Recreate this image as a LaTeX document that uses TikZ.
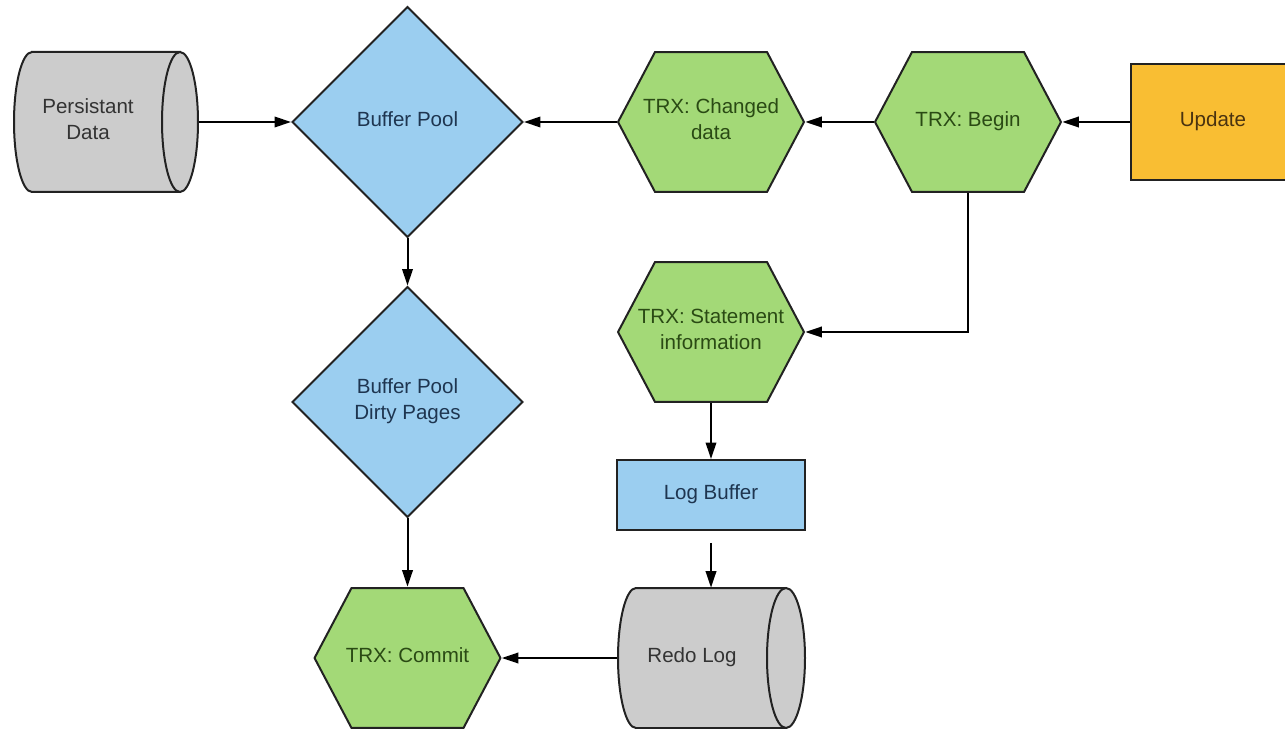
\documentclass[tikz,border=0pt]{standalone}
\usepackage{fontspec}
\setmainfont{Liberation Sans}
\usetikzlibrary{shapes.geometric,arrows.meta,calc}
\definecolor{edgeline}{HTML}{222222}
\definecolor{poolblue}{HTML}{9BCEF0}
\definecolor{trxgreen}{HTML}{A3D977}
\definecolor{storegray}{HTML}{CCCCCC}
\definecolor{startorange}{HTML}{F9BE33}
\definecolor{greentext}{HTML}{2A4A14}
\definecolor{bluetext}{HTML}{1E3550}
\definecolor{graytext}{HTML}{333333}
\definecolor{orangetext}{HTML}{4A3310}
\begin{document}
\begin{tikzpicture}[x=0.02cm, y=0.02cm,
  every node/.style={font=\fontsize{11.7}{14.7}\selectfont, align=center, inner sep=0pt,
    execute at end node={\rule[-1.2mm]{0pt}{0pt}}},
  outline/.style={draw=edgeline, line width=0.4mm},
  pool/.style={diamond, aspect=1, outline, fill=poolblue, text=bluetext,
    minimum width=46.2mm, minimum height=46.2mm},
  trx/.style={rectangle, minimum width=37.6mm, minimum height=28.4mm, text=greentext,
    path picture={
      \filldraw[outline, fill=trxgreen]
        ($(path picture bounding box.west)+(0.2mm,0)$)
        -- ($(path picture bounding box.north west)+(7.6mm,-0.2mm)$)
        -- ($(path picture bounding box.north east)+(-7.6mm,-0.2mm)$)
        -- ($(path picture bounding box.east)+(-0.2mm,0)$)
        -- ($(path picture bounding box.south east)+(-7.6mm,0.2mm)$)
        -- ($(path picture bounding box.south west)+(7.6mm,0.2mm)$)
        -- cycle;}},
  store/.style={outline, fill=storegray},
  storecap/.style={ellipse, outline, fill=storegray, minimum height=28mm},
  storebody/.style={rectangle, text=graytext, minimum height=28mm},
  box/.style={rectangle, outline},
  flow/.style={draw=black, line width=0.4mm, -{Triangle[length=3.3mm,width=2.1mm]}},
]
\useasboundingbox (0,0) rectangle (1285,-729);

% persistent data store, lying on its side
\filldraw[store] (32,-52) -- (180,-52) -- (180,-192) -- (32,-192)
  arc[start angle=270, end angle=90, x radius=3.6mm, y radius=14mm] -- cycle;
\node[storecap, minimum width=7.2mm] (pdcap) at (180,-122) {};
\node[storebody, minimum width=29.6mm] (pd) at (88,-122) {Persistant\\Data};

% redo log store
\filldraw[store] (636,-588) -- (786,-588) -- (786,-728) -- (636,-728)
  arc[start angle=270, end angle=90, x radius=3.6mm, y radius=14mm] -- cycle;
\node[storecap, minimum width=7.6mm] (rlcap) at (786,-658) {};
\node[storebody, minimum width=30mm] (rl) at (692,-658) {Redo Log};

% buffer pool
\node[pool] (bp) at (407.5,-122) {Buffer Pool};
\node[pool] (dp) at (407.5,-402) {Buffer Pool\\Dirty Pages};

% transaction steps
\node[trx] (tcd) at (711,-122) {TRX: Changed\\data};
\node[trx] (tb) at (968,-122) {TRX: Begin};
\node[trx] (tsi) at (711,-332) {TRX: Statement\\information};
\node[trx] (tc) at (407.5,-658) {TRX: Commit};

% start and log buffer
\node[box, fill=startorange, text=orangetext, minimum width=32.8mm, minimum height=23.2mm]
  (upd) at (1213,-122) {Update};
\node[box, fill=poolblue, text=bluetext, minimum width=37.6mm, minimum height=14mm]
  (lb) at (711,-495) {Log Buffer};

% connectors
\draw[flow] (pdcap.east) -- (bp.west);
\draw[flow] (tcd.west) -- (bp.east);
\draw[flow] (tb.west) -- (tcd.east);
\draw[flow] (upd.west) -- (tb.east);
\draw[flow] (tb.south) |- (tsi.east);
\draw[flow] (bp.south) -- (dp.north);
\draw[flow] (tsi.south) -- (lb.north);
\draw[flow, shorten <=2.4mm] (lb.south) -- (lb.south |- rl.north);
\draw[flow] (dp.south) -- (tc.north);
\draw[flow] (rl.west) -- (tc.east);
\end{tikzpicture}
\end{document}
